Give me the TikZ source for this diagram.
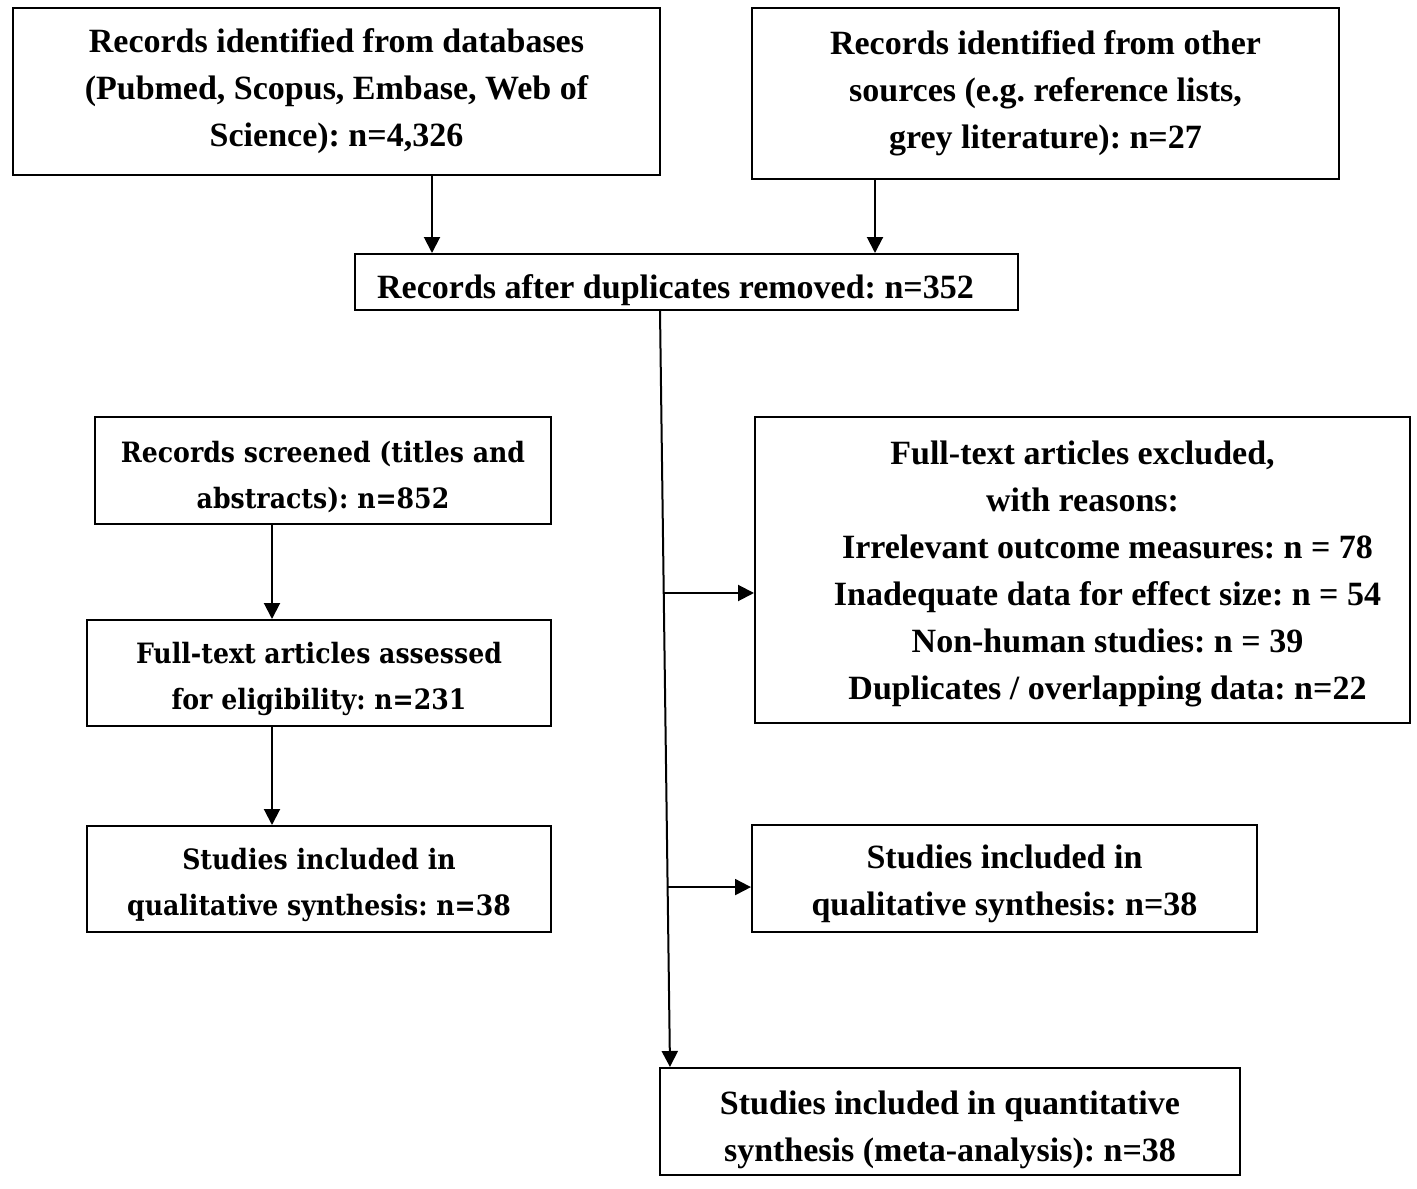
\documentclass[tikz,border=0pt]{standalone}
\usepackage{fontspec}
\setmainfont{Liberation Serif}
\newfontfamily\widefont{DejaVu Serif}[FakeStretch=0.9]
\usetikzlibrary{arrows.meta,calc}
\newcommand{\dn}[1]{\rule{0pt}{#1pt}}
\tikzset{
  box/.style={draw=black, line width=2pt, inner sep=0pt, align=center, fill=white,
    font=\fontsize{34}{47}\selectfont\bfseries\frenchspacing},
  wbox/.style={box, font=\widefont\fontsize{28}{46}\selectfont\bfseries\frenchspacing},
  arr/.style={line width=2pt, -{Triangle[length=16pt,width=16pt]}},
  ln/.style={line width=2pt}
}
\begin{document}
\begin{tikzpicture}[x=1pt,y=-1pt]
\path[fill=white] (0,0) rectangle (1417,1189);
\useasboundingbox (0,0) rectangle (1417,1189);

\node[box, minimum width=647pt, minimum height=167pt] (A) at (336.5,91.5)
  {Records identified from databases\\(Pubmed, Scopus, Embase, Web of\\Science): n=4,326};
\node[box, minimum width=587pt, minimum height=171pt] (B) at (1045.5,93.5)
  {Records identified from other\\sources (e.g. reference lists,\\grey literature): n=27};
\node[box, minimum width=663pt, minimum height=56pt] (C) at (686.5,282)
  {\dn{41}Records after duplicates removed: n=352\hspace*{22pt}};
\node[wbox, minimum width=456pt, minimum height=107pt] (D) at (323,470.5)
  {\dn{34}Records screened (titles and\\abstracts): n=852};
\node[wbox, minimum width=464pt, minimum height=106pt] (E) at (319,673)
  {\dn{34}Full-text articles assessed\\for eligibility: n=231};
\node[wbox, minimum width=464pt, minimum height=106pt] (F) at (319,879)
  {\dn{34}Studies included in\\qualitative synthesis: n=38};
\node[box, minimum width=655pt, minimum height=306pt] (G) at (1082.5,570)
  {\dn{31}Full-text articles excluded,\\with reasons:\\
   \hspace*{50pt}Irrelevant outcome measures: n = 78\\
   \hspace*{50pt}Inadequate data for effect size: n = 54\\
   \hspace*{50pt}Non-human studies: n = 39\\
   \hspace*{50pt}Duplicates / overlapping data: n=22};
\node[box, minimum width=505pt, minimum height=107pt] (H) at (1004.5,878.5)
  {\dn{35}Studies included in\\qualitative synthesis: n=38};
\node[box, minimum width=580pt, minimum height=107pt] (I) at (950,1121.5)
  {\dn{41}Studies included in quantitative\\synthesis (meta-analysis): n=38};

\coordinate (a1) at ([xshift=95.5]A.south);
\draw[arr] (a1) -- (a1 |- C.north);
\coordinate (b1) at ([xshift=-170.5]B.south);
\draw[arr] (b1) -- (b1 |- C.north);
\coordinate (d1) at ([xshift=-51]D.south);
\draw[arr] (d1) -- (d1 |- E.north);
\coordinate (e1) at ([xshift=-47]E.south);
\draw[arr] (e1) -- (e1 |- F.north);

\coordinate (c1) at ([xshift=-26.5]C.south);
\coordinate (i1) at ([xshift=-280]I.north);
\draw[arr] (c1) -- (i1);
\coordinate (br1) at ($(c1)!0.373!(i1)$);
\coordinate (br2) at ($(c1)!0.762!(i1)$);
\draw[arr] (br1) -- (br1 -| G.west);
\draw[arr] (br2) -- (br2 -| H.west);
\end{tikzpicture}
\end{document}
